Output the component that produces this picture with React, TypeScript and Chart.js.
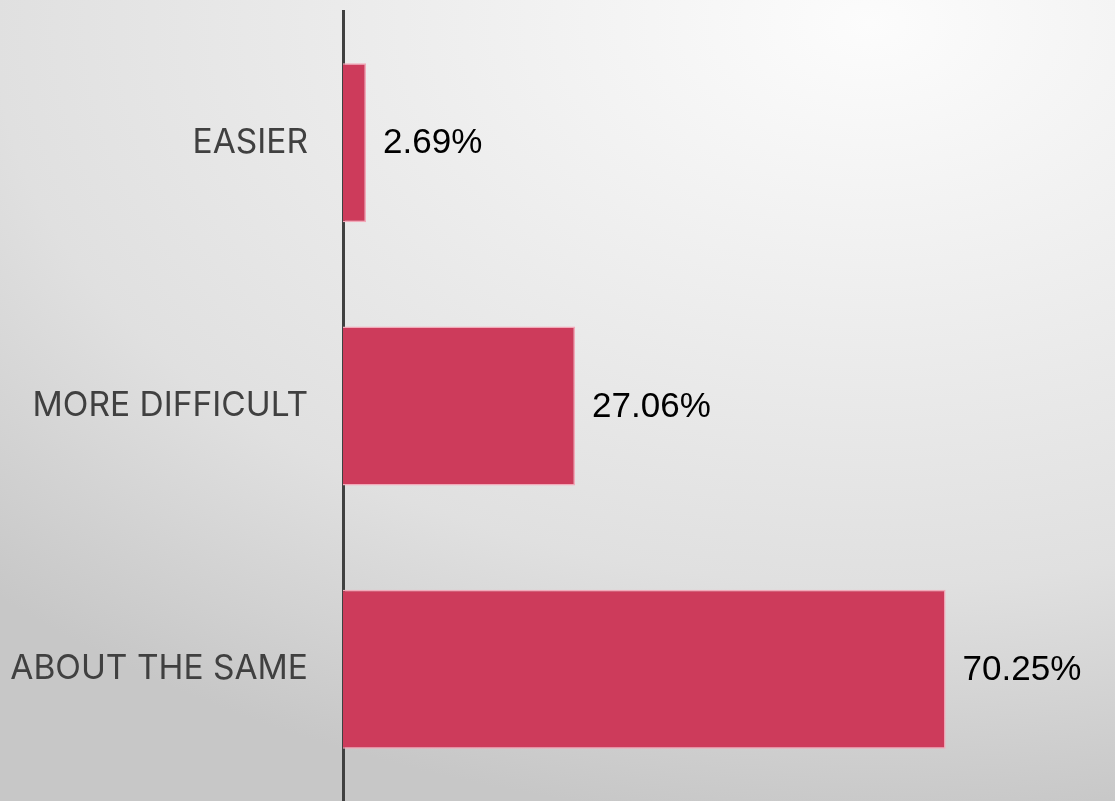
import React, { useEffect, useRef } from "react";
import { Chart, registerables } from "chart.js";

Chart.register(...registerables);

const categories: string[] = ["EASIER", "MORE DIFFICULT", "ABOUT THE SAME"];
const values: number[] = [2.69, 27.06, 70.25];
const xMin = 0;
const xMax = 90;

const BAR_COLOR = "#CD3B5B";
const BAR_BORDER = "#F2A9B9";

const dataLabelPlugin = {
  id: "dataLabels",
  afterDatasetsDraw(chart: any) {
    const ctx = chart.ctx;
    const meta = chart.getDatasetMeta(0);
    ctx.save();
    ctx.font = "35px 'Liberation Sans', Arial, sans-serif";
    ctx.fillStyle = "#000000";
    ctx.textAlign = "left";
    ctx.textBaseline = "middle";
    meta.data.forEach((bar: any, i: number) => {
      const v = values[i];
      ctx.fillText(v.toFixed(2) + "%", bar.x + 17, bar.y + 1);
    });
    ctx.restore();
  },
};

export default function App() {
  const ref = useRef<HTMLCanvasElement | null>(null);

  useEffect(() => {
    if (!ref.current) return;
    const chart = new Chart(ref.current, {
      type: "bar",
      data: {
        labels: categories,
        datasets: [
          {
            data: values,
            backgroundColor: BAR_COLOR,
            borderColor: BAR_BORDER,
            borderWidth: 1.5,
            barPercentage: 0.604,
            categoryPercentage: 1,
          },
        ],
      },
      options: {
        indexAxis: "y",
        animation: false,
        responsive: false,
        maintainAspectRatio: false,
        devicePixelRatio: 1,
        layout: { padding: { top: 11, right: 0, bottom: 0, left: 0 } },
        plugins: {
          legend: { display: false },
          tooltip: { enabled: false },
        },
        scales: {
          x: {
            display: false,
            min: xMin,
            max: xMax,
          },
          y: {
            display: true,
            z: 1,
            afterFit: (scale: any) => {
              scale.width = 343;
              scale.paddingTop = 0;
              scale.paddingBottom = 0;
            },
            grid: { display: false, drawTicks: false },
            border: { display: true, color: "#404040", width: 3 },
            ticks: {
              color: "#404040",
              padding: 35,
              font: { family: "Inter, 'Noto Sans', sans-serif", size: 33.5 },
            },
          },
        },
      },
      plugins: [dataLabelPlugin],
    } as any);
    return () => chart.destroy();
  }, []);

  return (
    <div
      style={{
        position: "fixed",
        left: 0,
        top: 0,
        width: 1115,
        height: 801,
        background:
          "radial-gradient(ellipse 1250px 800px at 870px 24px, #fcfcfc 0%, #e0e0e0 70%, #c7c7c7 100%)",
      }}
    >
      <canvas ref={ref} width={1115} height={801} style={{ display: "block" }} />
    </div>
  );
}
